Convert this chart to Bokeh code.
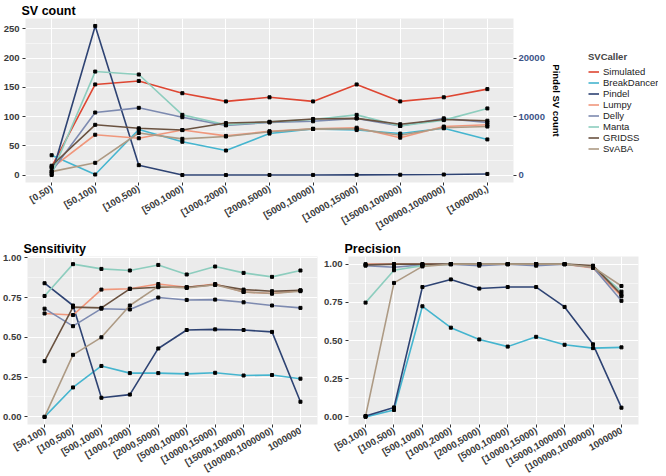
import math
from bokeh.plotting import figure
from bokeh.models import (FactorRange, Range1d, LinearAxis, FixedTicker, Legend,
                          LegendItem, NumeralTickFormatter)
from bokeh.layouts import column, row
from bokeh.embed import file_html
from bokeh.resources import INLINE

callers = ["Simulated", "BreakDancer", "Pindel", "Lumpy", "Delly", "Manta", "GRIDSS", "SvABA"]
caller_colors = ["#DE4632", "#45B5CF", "#2E4373", "#F0977C", "#7D8AB0", "#8DCDBE", "#6A5240", "#AD9A84"]

# ---- SV count panel ----
count_bins = ["[0,50)", "[50,100)", "[100,500)", "[500,1000)", "[1000,2000)", "[2000,5000)",
              "[5000,10000)", "[10000,15000)", "[15000,100000)", "[100000,1000000)", "[1000000,)"]
count_simulated = [14, 155, 161, 140, 126, 133, 126, 155, 126, 133, 147]
count_breakdancer = [34, 1, 78, 57, 42, 71, 79, 77, 71, 80, 61]
count_pindel = [20, 25500, 1700, 10, 10, 20, 30, 40, 60, 100, 200]   # secondary axis
count_lumpy = [12, 69, 63, 77, 67, 75, 79, 81, 64, 83, 86]
count_delly = [6, 107, 115, 99, 85, 90, 92, 97, 84, 97, 90]
count_manta = [2, 177, 172, 103, 86, 91, 95, 103, 84, 94, 114]
count_gridss = [16, 86, 80, 77, 89, 91, 96, 97, 87, 95, 93]
count_svaba = [6, 21, 72, 62, 66, 74, 79, 79, 68, 81, 83]
count_ticks = [0, 50, 100, 150, 200, 250]
pindel_ticks = [0, 10000, 20000]
pindel_scale = 100

# ---- Sensitivity / Precision panels ----
rate_bins = ["[50,100)", "[100,500)", "[500,1000)", "[1000,2000)", "[2000,5000)",
             "[5000,10000)", "[10000,15000)", "[15000,100000)", "[100000,1000000)", "1000000"]
sens_breakdancer = [0.00, 0.185, 0.32, 0.275, 0.275, 0.27, 0.277, 0.26, 0.263, 0.24]
sens_pindel = [0.84, 0.70, 0.12, 0.14, 0.43, 0.546, 0.55, 0.546, 0.534, 0.095]
sens_lumpy = [0.65, 0.64, 0.80, 0.805, 0.835, 0.815, 0.835, 0.785, 0.775, 0.795]
sens_delly = [0.68, 0.57, 0.68, 0.675, 0.75, 0.735, 0.737, 0.72, 0.70, 0.685]
sens_manta = [0.76, 0.96, 0.93, 0.92, 0.955, 0.895, 0.945, 0.905, 0.88, 0.92]
sens_gridss = [0.35, 0.69, 0.685, 0.805, 0.815, 0.815, 0.83, 0.80, 0.79, 0.795]
sens_svaba = [0.00, 0.39, 0.50, 0.70, 0.82, 0.81, 0.83, 0.785, 0.775, 0.79]

prec_breakdancer = [0.0, 0.045, 0.724, 0.584, 0.507, 0.46, 0.524, 0.472, 0.45, 0.455]
prec_pindel = [0.005, 0.062, 0.85, 0.90, 0.84, 0.85, 0.85, 0.72, 0.475, 0.06]
prec_lumpy = [1.0, 1.0, 1.0, 1.0, 1.0, 1.0, 1.0, 1.0, 0.975, 0.79]
prec_delly = [0.99, 0.98, 0.995, 1.0, 0.99, 1.0, 0.99, 1.0, 0.98, 0.76]
prec_manta = [0.748, 0.96, 0.99, 1.0, 1.0, 1.0, 1.0, 1.0, 0.985, 0.82]
prec_gridss = [0.995, 1.0, 1.0, 1.0, 1.0, 1.0, 1.0, 1.0, 0.99, 0.80]
prec_svaba = [0.005, 0.877, 0.985, 1.0, 1.0, 1.0, 1.0, 1.0, 0.98, 0.857]
rate_ticks = [0.0, 0.25, 0.5, 0.75, 1.0]

FONT = "Liberation Sans"
TICK_COLOR = "#3a3a3a"


def padded(values_lists):
    lo = min(min(v) for v in values_lists)
    hi = max(max(v) for v in values_lists)
    pad = 0.05 * (hi - lo)
    return lo - pad, hi + pad


def make_fig(title, factors, fw, fh, y_lo, y_hi, ticks):
    p = figure(frame_width=fw, frame_height=fh, title=title,
               x_range=FactorRange(*factors, range_padding=0.1, range_padding_units="absolute"),
               y_range=Range1d(y_lo, y_hi),
               output_backend="svg", toolbar_location=None,
               min_border_left=2, min_border_right=4, min_border_top=0,
               min_border_bottom=2)
    p.title.text_font = FONT
    p.title.text_font_size = "12.5px"
    p.title.text_font_style = "bold"
    p.title.text_color = "black"
    p.title.offset = -4
    p.title.standoff = 2
    p.background_fill_color = "#EBEBEB"
    p.border_fill_color = "white"
    p.outline_line_color = None
    p.xgrid.grid_line_color = "white"
    p.xgrid.grid_line_width = 1.1
    p.ygrid.grid_line_color = "white"
    p.ygrid.grid_line_width = 1.1
    p.ygrid.minor_grid_line_color = "white"
    p.ygrid.minor_grid_line_width = 0.5
    step = ticks[1] - ticks[0]
    minors = [t + step / 2 for t in ticks[:-1]]
    p.yaxis.ticker = FixedTicker(ticks=ticks, minor_ticks=minors)
    for ax in p.xaxis + p.yaxis:
        ax.axis_line_color = None
        ax.major_tick_line_color = "#333333"
        ax.major_tick_out = 3
        ax.major_tick_in = 0
        ax.minor_tick_line_color = None
        ax.major_label_text_font = FONT
        ax.major_label_text_font_size = "9.5px"
        ax.major_label_text_font_style = "bold"
        ax.major_label_text_color = TICK_COLOR
        ax.major_label_standoff = 2
    p.xaxis.major_label_orientation = math.pi / 6
    return p


# ---------- top panel ----------
left_series = [count_simulated, count_breakdancer, [v / pindel_scale for v in count_pindel],
               count_lumpy, count_delly, count_manta, count_gridss, count_svaba]
c_lo, c_hi = padded(left_series)
top = make_fig("SV count", count_bins, 488, 164, c_lo, c_hi, count_ticks)
top.extra_y_ranges = {"pindel": Range1d(c_lo * pindel_scale, c_hi * pindel_scale)}
raxis = LinearAxis(y_range_name="pindel", ticker=FixedTicker(ticks=pindel_ticks),
                   axis_label="Pindel SV count")
raxis.axis_line_color = None
raxis.major_tick_line_color = "#333333"
raxis.major_tick_out = 3
raxis.major_tick_in = 0
raxis.minor_tick_line_color = None
raxis.major_label_text_font = FONT
raxis.major_label_text_font_size = "9.5px"
raxis.major_label_text_font_style = "bold"
raxis.major_label_text_color = "#3C5488"
raxis.major_label_standoff = 2
raxis.axis_label_text_font = FONT
raxis.axis_label_text_font_size = "9.5px"
raxis.axis_label_text_font_style = "bold"
raxis.axis_label_text_color = "black"
raxis.axis_label_standoff = 3
top.add_layout(raxis, "right")

top_data = [count_simulated, count_breakdancer, count_pindel, count_lumpy,
            count_delly, count_manta, count_gridss, count_svaba]
for name, col, ys in zip(callers, caller_colors, top_data):
    if name == "Pindel":
        top.line(count_bins, ys, line_color=col, line_width=1.6, y_range_name="pindel")
    else:
        top.line(count_bins, ys, line_color=col, line_width=1.6)
for name, ys in zip(callers, top_data):
    if name == "Pindel":
        top.scatter(count_bins, ys, marker="square", size=3, color="black", y_range_name="pindel")
    else:
        top.scatter(count_bins, ys, marker="square", size=3, color="black")

# ---------- legend (separate blank figure beside the top panel) ----------
leg_fig = figure(width=94, height=214, x_range=Range1d(0, 1), y_range=Range1d(0, 1),
                 x_axis_location=None, y_axis_location=None,
                 output_backend="svg", toolbar_location=None,
                 min_border=0)
leg_fig.outline_line_color = None
leg_fig.background_fill_color = "white"
leg_fig.border_fill_color = "white"
leg_fig.xgrid.visible = False
leg_fig.ygrid.visible = False
items = []
for name, col in zip(callers, caller_colors):
    # proxy renderer placed outside the visible range; only its legend swatch shows
    r = leg_fig.line([5, 6], [5, 6], line_color=col, line_width=1.6)
    items.append(LegendItem(label=name, renderers=[r]))
legend = Legend(items=items, title="SVCaller", location=(24, 4))
legend.title_text_font = FONT
legend.title_text_font_size = "9.5px"
legend.title_text_font_style = "bold"
legend.title_standoff = 4
legend.label_text_font = FONT
legend.label_text_font_size = "9.5px"
legend.label_text_color = "#222222"
legend.label_height = 11
legend.glyph_height = 11
legend.glyph_width = 11
legend.spacing = 0
legend.padding = 0
legend.margin = 0
legend.label_standoff = 4
legend.border_line_color = None
legend.background_fill_alpha = 0
leg_fig.add_layout(legend)


def rate_panel(title, series):
    lo, hi = padded(series)
    p = make_fig(title, rate_bins, 290, 168, lo, hi, rate_ticks)
    p.yaxis.formatter = NumeralTickFormatter(format="0.00")
    for col, ys in zip(caller_colors[1:], series):
        p.line(rate_bins, ys, line_color=col, line_width=1.6)
    for ys in series:
        p.scatter(rate_bins, ys, marker="square", size=3, color="black")
    return p


sens = rate_panel("Sensitivity", [sens_breakdancer, sens_pindel, sens_lumpy, sens_delly,
                                  sens_manta, sens_gridss, sens_svaba])
prec = rate_panel("Precision", [prec_breakdancer, prec_pindel, prec_lumpy, prec_delly,
                                prec_manta, prec_gridss, prec_svaba])

layout = column(row(top, leg_fig), row(sens, prec))
open("out.html", "w").write(file_html(layout, INLINE))
